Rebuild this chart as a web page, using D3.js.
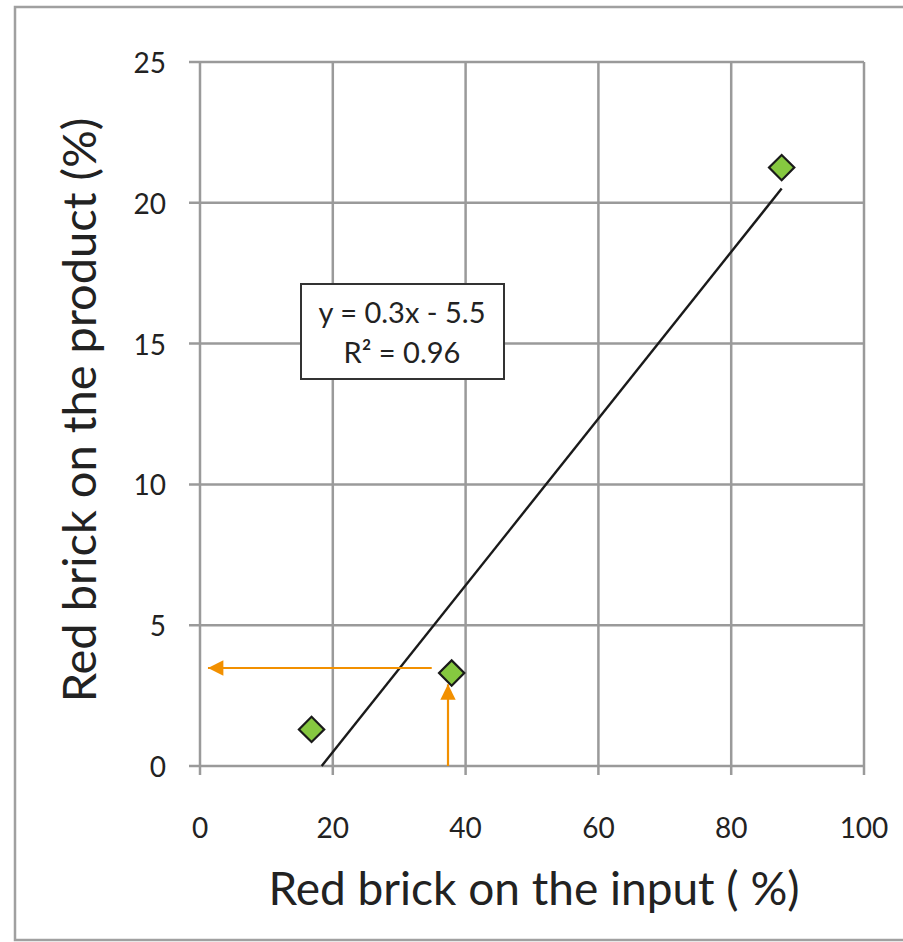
<!DOCTYPE html>
<html>
<head>
<meta charset="utf-8">
<script src="https://cdn.jsdelivr.net/npm/d3@7"></script>
<style>
  html, body { margin: 0; padding: 0; background: #fff; }
  svg text { font-family: Lato, "Open Sans", sans-serif; fill: #222; }
</style>
</head>
<body>
<svg id="chart" width="903" height="942"></svg>
<script>
// Measured samples: red brick share on the input vs. on the product
const inputPct   = [16.8, 37.9, 87.6];
const productPct = [1.3, 3.3, 21.25];

// Axis ticks
const xTicks = [0, 20, 40, 60, 80, 100];
const yTicks = [0, 5, 10, 15, 20, 25];

// Reading guide: from an input value up to the fit, then across to the product axis
const guideUp     = { x: 37.35, y0: 0, y1: 2.9 };
const guideAcross = { y: 3.48, x0: 34.9, x1: 1.2 };

const eqLines = ["y = 0.3x - 5.5", "R² = 0.96"];

const svg = d3.select("#chart");
const gridColor = "#9a9a9a";
const orange = "#f29000";

// Outer frame
svg.append("rect")
  .attr("x", 15).attr("y", 7).attr("width", 903).attr("height", 933)
  .attr("fill", "none").attr("stroke", "#a0a0a0").attr("stroke-width", 2.5);

const plot = { left: 200, top: 62, right: 864, bottom: 766 };
const x = d3.scaleLinear().domain([0, 100]).range([plot.left, plot.right]);
const y = d3.scaleLinear().domain([0, 25]).range([plot.bottom, plot.top]);

// Gridlines
const g = svg.append("g");
g.selectAll(".vgrid").data(xTicks).join("line")
  .attr("x1", d => x(d)).attr("x2", d => x(d))
  .attr("y1", plot.top).attr("y2", plot.bottom + 9)
  .attr("stroke", gridColor).attr("stroke-width", 2.5);
g.selectAll(".hgrid").data(yTicks).join("line")
  .attr("y1", d => y(d)).attr("y2", d => y(d))
  .attr("x1", plot.left - 11).attr("x2", plot.right)
  .attr("stroke", gridColor).attr("stroke-width", 2.5);

// Tick labels
svg.selectAll(".xl").data(xTicks).join("text")
  .attr("x", d => x(d)).attr("y", 838)
  .attr("text-anchor", "middle").attr("font-size", 28)
  .text(d => d);
svg.selectAll(".yl").data(yTicks).join("text")
  .attr("x", 166).attr("y", d => y(d) + 11)
  .attr("text-anchor", "end").attr("font-size", 28)
  .text(d => d);

// Axis titles
svg.append("text")
  .attr("x", 534).attr("y", 905)
  .attr("text-anchor", "middle").attr("font-size", 46)
  .text("Red brick on the input ( %)");
svg.append("text")
  .attr("transform", "translate(96,410) rotate(-90)")
  .attr("text-anchor", "middle").attr("font-size", 47)
  .text("Red brick on the product (%)");

// Least-squares trendline through the samples
const mx = d3.mean(inputPct), my = d3.mean(productPct);
const sxy = d3.sum(inputPct, (v, i) => (v - mx) * (productPct[i] - my));
const sxx = d3.sum(inputPct, v => (v - mx) ** 2);
const slope = sxy / sxx, intercept = my - slope * mx;
const xStart = Math.max(d3.min(inputPct), -intercept / slope);
const xEnd = d3.max(inputPct);
svg.append("line")
  .attr("x1", x(xStart)).attr("y1", y(slope * xStart + intercept))
  .attr("x2", x(xEnd)).attr("y2", y(slope * xEnd + intercept))
  .attr("stroke", "#1a1a1a").attr("stroke-width", 2.4);

// Orange reading guide with arrowheads
const defs = svg.append("defs");
defs.append("marker")
  .attr("id", "arrow").attr("viewBox", "0 0 10 10")
  .attr("refX", 10).attr("refY", 5)
  .attr("markerWidth", 7.5).attr("markerHeight", 7)
  .attr("markerUnits", "strokeWidth")
  .attr("orient", "auto")
  .append("path").attr("d", "M0,0 L10,5 L0,10 Z").attr("fill", orange);

svg.append("line")
  .attr("x1", x(guideUp.x)).attr("y1", y(guideUp.y0))
  .attr("x2", x(guideUp.x)).attr("y2", y(guideUp.y1))
  .attr("stroke", orange).attr("stroke-width", 2.2)
  .attr("marker-end", "url(#arrow)");
svg.append("line")
  .attr("x1", x(guideAcross.x0)).attr("y1", y(guideAcross.y))
  .attr("x2", x(guideAcross.x1)).attr("y2", y(guideAcross.y))
  .attr("stroke", orange).attr("stroke-width", 2.2)
  .attr("marker-end", "url(#arrow)");

// Sample markers (diamonds)
const diamond = d3.symbol().type(d3.symbolSquare).size(320);
svg.selectAll(".pt").data(inputPct).join("path")
  .attr("d", diamond)
  .attr("transform", (d, i) => `translate(${x(d)},${y(productPct[i])}) rotate(45)`)
  .attr("fill", "#86c840").attr("stroke", "#1a1a1a").attr("stroke-width", 2.2);

// Equation label
svg.append("rect")
  .attr("x", 301).attr("y", 284).attr("width", 203).attr("height", 95)
  .attr("fill", "#fff").attr("stroke", "#333").attr("stroke-width", 2);
svg.selectAll(".eq").data(eqLines).join("text")
  .attr("x", 402).attr("y", (d, i) => 323 + i * 40)
  .attr("text-anchor", "middle").attr("font-size", 29)
  .text(d => d);
</script>
</body>
</html>
